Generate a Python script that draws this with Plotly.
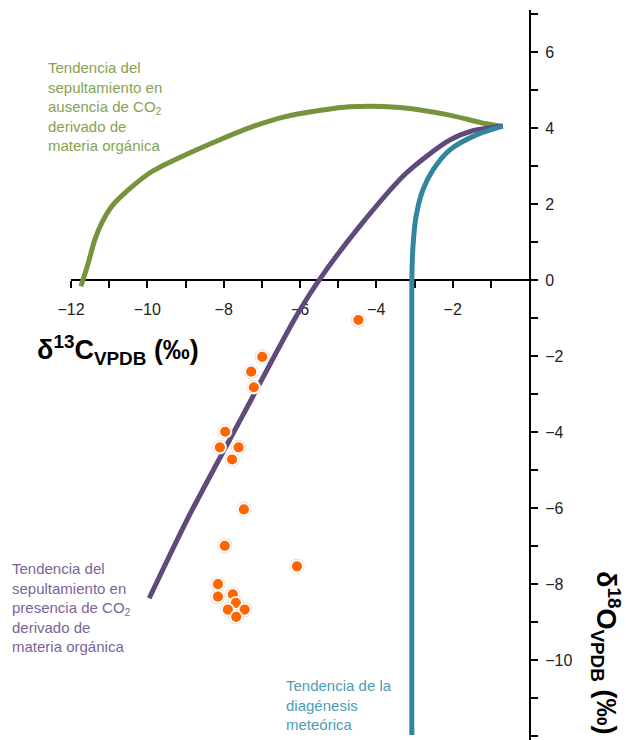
import plotly.graph_objects as go

# ---- data ----
pts_d13C = [-4.47, -6.99, -7.28, -7.21, -7.96, -8.10, -7.61, -7.78, -7.47, -7.97,
            -6.08, -8.15, -8.15, -7.76, -7.68, -7.89, -7.45, -7.67]
pts_d18O = [-1.05, -2.02, -2.41, -2.82, -3.99, -4.40, -4.40, -4.72, -6.03, -6.99,
            -7.53, -8.00, -8.33, -8.27, -8.49, -8.67, -8.67, -8.86]

green_x = [-11.74, -11.55, -11.38, -11.20, -10.94, -10.50, -9.89, -9.01, -8.13, -7.26,
           -6.38, -5.50, -4.71, -3.39, -2.08, -1.21, -0.69]
green_y = [-0.16, 0.44, 1.05, 1.49, 1.93, 2.37, 2.85, 3.29, 3.68, 4.03,
           4.30, 4.46, 4.56, 4.54, 4.34, 4.13, 4.05]

purple_x = [-9.95, -8.92, -7.52, -6.11, -5.50, -4.45, -3.22, -2.08, -1.47, -0.69]
purple_y = [-8.37, -6.23, -3.60, -0.97, 0.00, 1.40, 2.81, 3.68, 3.93, 4.05]

teal_x = [-0.69, -1.38, -2.08, -2.52, -2.78, -2.96, -3.04, -3.07, -3.07]
teal_y = [4.05, 3.82, 3.42, 2.89, 2.37, 1.67, 0.88, 0.00, -11.97]

x_ticks = [-12, -10, -8, -6, -4, -2]
x_minor = [-11, -9, -7, -5, -3, -1]
y_ticks = [-12, -10, -8, -6, -4, -2, 0, 2, 4, 6]
y_minor = [-11, -9, -7, -5, -3, -1, 1, 3, 5, 7]

GREEN = "#77933C"
PURPLE = "#604A7B"
TEAL = "#31859C"
ORANGE = "#FF6600"

W, H = 626, 740

fig = go.Figure()

fig.add_trace(go.Scatter(x=green_x, y=green_y, mode="lines",
                         line=dict(color=GREEN, width=5, shape="spline", smoothing=0.8), hoverinfo="skip"))
fig.add_trace(go.Scatter(x=purple_x, y=purple_y, mode="lines",
                         line=dict(color=PURPLE, width=5, shape="spline", smoothing=0.8), hoverinfo="skip"))
fig.add_trace(go.Scatter(x=teal_x, y=teal_y, mode="lines",
                         line=dict(color=TEAL, width=5, shape="spline", smoothing=0.8), hoverinfo="skip"))
# soft shadow halo
fig.add_trace(go.Scatter(x=pts_d13C, y=pts_d18O, mode="markers",
                         marker=dict(size=15, color="rgba(180,180,180,0.55)", line=dict(width=0)),
                         hoverinfo="skip"))
fig.add_trace(go.Scatter(x=pts_d13C, y=pts_d18O, mode="markers",
                         marker=dict(size=12, color=ORANGE, line=dict(color="white", width=1.8))))


def px(x):
    return x / W


def py(y):
    return 1 - y / H


FONT = "Liberation Sans, Arial"
ann = []
ann.append(dict(x=px(46), y=py(57), xref="paper", yref="paper", xanchor="left", yanchor="top", align="left",
                showarrow=False, font=dict(family=FONT, size=15, color="#86A350"),
                text="Tendencia del<br>sepultamiento en<br>ausencia de CO<sub>2</sub><br>derivado de<br>materia orgánica"))
ann.append(dict(x=px(10), y=py(558), xref="paper", yref="paper", xanchor="left", yanchor="top", align="left",
                showarrow=False, font=dict(family=FONT, size=15, color="#7A6598"),
                text="Tendencia del<br>sepultamiento en<br>presencia de CO<sub>2</sub><br>derivado de<br>materia orgánica"))
ann.append(dict(x=px(284), y=py(675), xref="paper", yref="paper", xanchor="left", yanchor="top", align="left",
                showarrow=False, font=dict(family=FONT, size=15, color="#4D9DB3"),
                text="Tendencia de la<br>diagénesis<br>meteórica"))
ann.append(dict(x=px(35), y=py(350), xref="paper", yref="paper", xanchor="left", yanchor="middle",
                showarrow=False, font=dict(family=FONT, size=27, color="black"),
                text="<b>δ<sup>13</sup>C<sub>VPDB</sub> (‰)</b>"))
ann.append(dict(x=px(606), y=py(652), xref="paper", yref="paper", xanchor="center", yanchor="middle",
                textangle=90, showarrow=False,
                font=dict(family=FONT, size=27, color="black"),
                text="<b>δ<sup>18</sup>O<sub>VPDB</sub> (‰)</b>"))

fig.update_layout(
    width=W, height=H, margin=dict(l=0, r=0, t=0, b=0, autoexpand=False),
    paper_bgcolor="white", plot_bgcolor="white", showlegend=False,
    annotations=ann,
    xaxis=dict(domain=[71 / W, 529 / W], range=[-12, 0], anchor="free", position=460 / H,
               showgrid=False, zeroline=False, showline=True, linecolor="black", linewidth=2,
               tickmode="array", tickvals=x_ticks, ticks="outside", ticklen=7, tickwidth=1.5,
               tickcolor="black", layer="below traces", ticklabelstandoff=8,
               tickfont=dict(family=FONT, size=16, color="#222"),
               minor=dict(tickmode="array", tickvals=x_minor, ticks="outside", ticklen=7, tickwidth=1.5,
                          tickcolor="black")),
    yaxis=dict(domain=[0, 729.8 / H], range=[-12.1, 7.1], anchor="x", side="right",
               showgrid=False, zeroline=False, showline=True, linecolor="black", linewidth=2,
               tickmode="array", tickvals=y_ticks, ticks="outside", ticklen=7, tickwidth=1.5,
               tickcolor="black", layer="below traces", ticklabelstandoff=4,
               tickfont=dict(family=FONT, size=16, color="#222"),
               minor=dict(tickmode="array", tickvals=y_minor, ticks="outside", ticklen=7, tickwidth=1.5,
                          tickcolor="black")),
)

fig.write_html("out.html")
